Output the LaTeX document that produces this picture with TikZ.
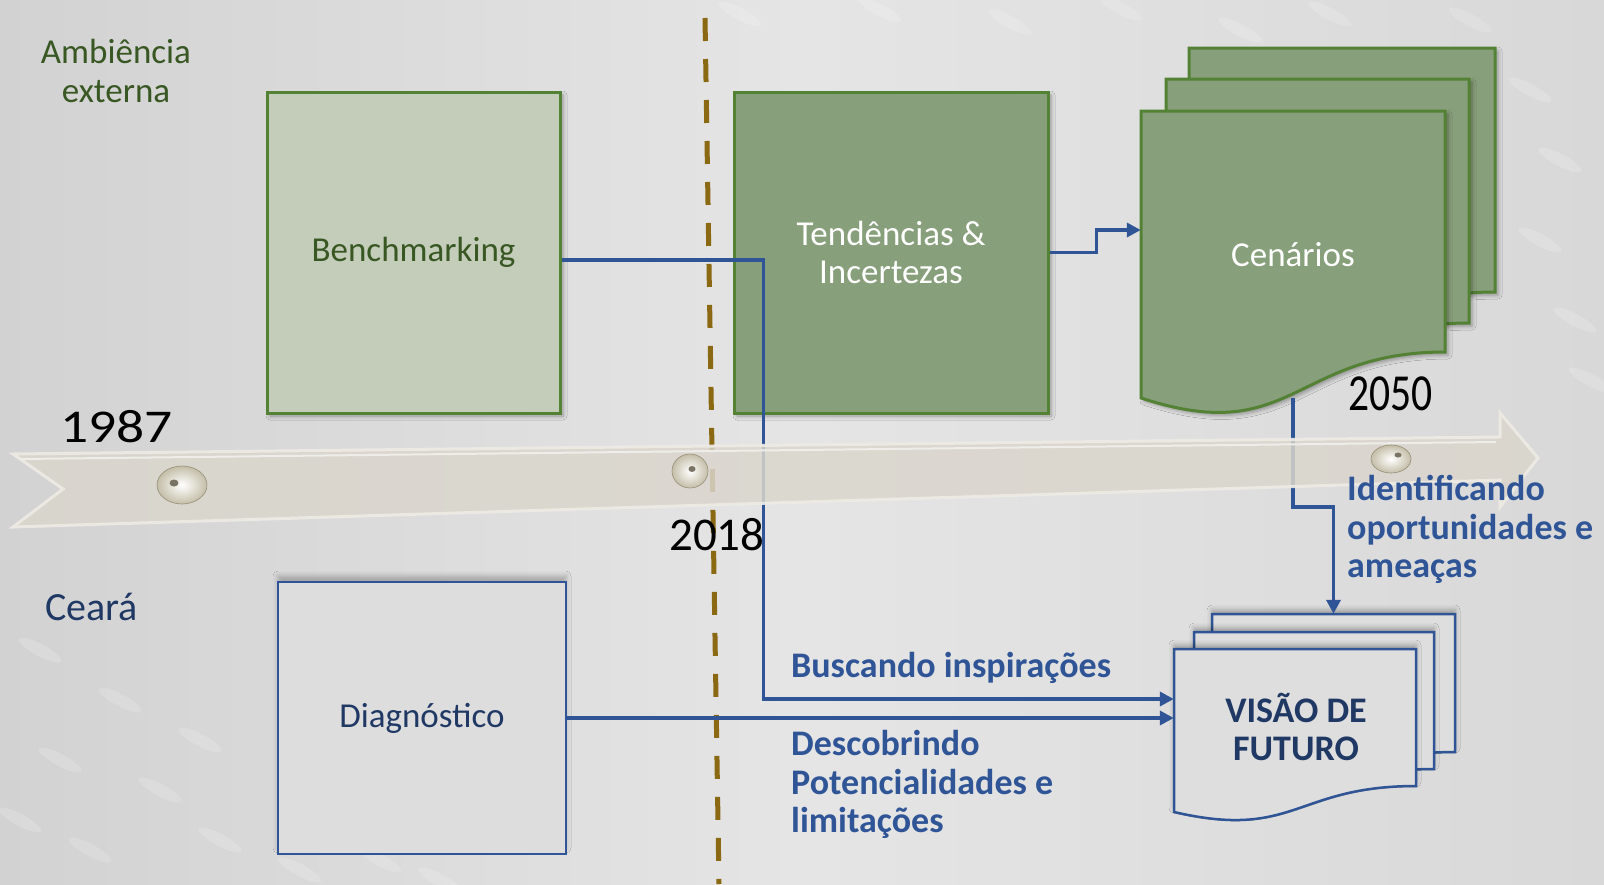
\documentclass[tikz,border=0pt]{standalone}
\usepackage{graphicx}
\usepackage{fontspec}
\setmainfont{Carlito}
\usetikzlibrary{arrows.meta,shadows.blur}
\definecolor{bgL}{RGB}{210,210,210}
\definecolor{bgM}{RGB}{229,229,229}
\definecolor{bgR}{RGB}{216,216,216}
\definecolor{gtext}{RGB}{56,87,35}
\definecolor{gborder}{RGB}{84,130,53}
\definecolor{lightsage}{RGB}{195,205,186}
\definecolor{sage}{RGB}{135,159,122}
\definecolor{linkblue}{RGB}{47,85,151}
\definecolor{navy}{RGB}{31,56,100}
\definecolor{bandfill}{RGB}{218,214,205}
\definecolor{bandrim}{RGB}{238,235,229}
\definecolor{dashbrown}{RGB}{139,104,18}
\definecolor{pegout}{RGB}{196,190,168}
\definecolor{pegrim}{RGB}{150,144,120}
\definecolor{peghole}{RGB}{120,115,100}
\definecolor{vispage}{RGB}{222,222,222}
\definecolor{diagfill}{RGB}{221,221,221}
\begin{document}
\begin{tikzpicture}[x=1pt,y=-1pt,
  txt/.style={inner sep=0pt, font={\fontsize{35}{38.5}\selectfont}},
  btxt/.style={inner sep=0pt, font={\fontsize{36}{38.5}\selectfont\bfseries}, text=linkblue},
  yeartxt/.style={inner sep=0pt, anchor=base west, text=black},
  greenbox/.style={draw=gborder, line width=3pt, inner sep=0pt,
    blur shadow={shadow xshift=3pt, shadow yshift=-3pt, shadow blur radius=4pt, shadow opacity=35}},
  cenpage/.style={draw=gborder, line width=3pt, fill=sage,
    blur shadow={shadow xshift=3pt, shadow yshift=-3pt, shadow blur radius=4pt, shadow opacity=35}},
  vpage/.style={draw=linkblue, line width=2.5pt, fill=vispage,
    blur shadow={shadow xshift=0pt, shadow yshift=4pt, shadow blur radius=5pt, shadow opacity=30}},
  conn/.style={draw=linkblue, line width=3.5pt, -{Triangle[length=14pt,width=14pt]}},
  streak/.style={fill=white, opacity=0.16},
  peg/.style={inner color=white, outer color=pegout, draw=pegrim, line width=0.6pt}
]
\useasboundingbox (0,0) rectangle (1604,884);
% background
\shade[left color=bgL, right color=bgR, middle color=bgM] (0,0) rectangle (1604,884);
\foreach \sx/\sy in {740/14, 880/10, 1010/22, 1120/8, 1240/30, 1330/14, 1420/60, 1470/20, 1530/90, 1560/160, 1540/240, 1575/320, 1590/380,
  40/650, 120/700, 60/760, 160/790, 220/840, 90/850, 300/870, 20/820, 200/740, 380/860, 440/880}
  \fill[streak, rotate around={-28:(\sx,\sy)}] (\sx,\sy) ellipse [x radius=24, y radius=6];

% dashed year line
\coordinate (dashtop) at (705,18);
\coordinate (dashbot) at (719,884);
\draw[dashbrown, line width=5pt, dash pattern=on 23pt off 18pt] (dashtop) -- (dashbot);

% Benchmarking and Tendencias boxes
\node[greenbox, fill=lightsage, text=gtext, txt, minimum width=293pt, minimum height=321pt] (bench) at (413.5,252.5) {Benchmarking};
\node[greenbox, fill=sage, text=white, txt, align=center, minimum width=314pt, minimum height=321pt] (tend) at (891,252.5) {Tendências \&\\Incertezas};

% Cenarios page stack
\draw[cenpage] (1189,48) -- (1495,48) -- (1495,292) .. controls (1342,292) and (1342,388) .. (1189,338) -- cycle;
\draw[cenpage] (1166,79) -- (1469,79) -- (1469,323) .. controls (1317,323) and (1317,419) .. (1166,369) -- cycle;
\draw[cenpage] (1141,111) -- (1445,111) -- (1445,352) .. controls (1293,352) and (1293,448) .. (1141,398) -- cycle;
\node[txt, text=white, minimum width=304pt, minimum height=287pt] (cenF) at (1293,254.5) {Cenários};

% Diagnostico box
\node[draw=linkblue, fill=diagfill, line width=2.5pt, txt, text=navy, minimum width=288pt, minimum height=272pt,
  blur shadow={shadow xshift=0pt, shadow yshift=6pt, shadow blur radius=5pt, shadow opacity=25}] (diag) at (422,718) {Diagnóstico};

% Visao de futuro page stack
\draw[vpage] (1212,614) -- (1455,614) -- (1455,752) .. controls (1333,752) and (1333,806) .. (1212,778) -- cycle;
\draw[vpage] (1194,632) -- (1434,632) -- (1434,769) .. controls (1314,769) and (1314,823) .. (1194,795) -- cycle;
\draw[vpage] (1174,649) -- (1416,649) -- (1416,786) .. controls (1295,786) and (1295,840) .. (1174,812) -- cycle;
\node[inner sep=0pt, minimum width=242pt, minimum height=163pt] (visF) at (1295,730.5) {};
\node[inner sep=0pt, minimum width=243pt, minimum height=138pt] (visB) at (1333.5,683) {};
\node[inner sep=0pt, font={\fontsize{36}{38.5}\selectfont\bfseries}, text=navy, align=center] (visT) at (1296,727) {VISÃO DE\\FUTURO};

% connectors
\coordinate (yBus) at (0,699);
\draw[conn] (tend.east) -- ++(47,0) |- (cenF.west |- 0,230);
\draw[conn] ([yshift=-7.5pt]bench.east) -- ++(202,0) |- (visF.west |- yBus);
\draw[conn] (diag.east) -- (visF.west |- diag.east);
\draw[conn] (cenF.south) -- ++(0,109) -| (visB.north);

% timeline band
\fill[bandfill, opacity=0.85] (13,454) -- (1500,437) -- (1500,413) -- (1538,458) -- (1500,507) -- (1500,480) -- (13,527) -- (63,489) -- cycle;
\draw[bandrim, line width=3pt, line join=miter, opacity=0.9] (13,454) -- (1500,437) -- (1500,413) -- (1538,458) -- (1500,507) -- (1500,480) -- (13,527) -- (63,489) -- cycle;
\draw[white!55!bandfill, line width=2pt] (20,459) -- (1496,442);
% pegs
\shade[peg] (182,485) ellipse [x radius=25, y radius=19];
\fill[peghole] (174,483) ellipse [x radius=4.5, y radius=3.5];
\shade[peg] (690,471) ellipse [x radius=18, y radius=17];
\fill[peghole] (692,469) ellipse [x radius=3.5, y radius=3];
\shade[peg] (1391,459) ellipse [x radius=20, y radius=14];
\fill[peghole] (1398,455) ellipse [x radius=3.5, y radius=2.5];

% texts
\node[txt, text=gtext, align=center] (amb) at (116,71) {Ambiência\\externa};
\node[yeartxt, font={\fontsize{47}{50}\selectfont}] (y1987) at (60,442) {\scalebox{1.18}[1]{1987}};
\node[yeartxt, font={\fontsize{47}{50}\selectfont}] (y2018) at (669,550) {2018};
\node[yeartxt, font={\fontsize{52}{55}\selectfont}] (y2050) at (1348,410) {\scalebox{0.8}[1]{2050}};
\node[inner sep=0pt, anchor=base west, font={\fontsize{40}{44}\selectfont}, text=navy] (ceara) at (45,620) {Ceará};
\node[btxt, anchor=base west] (busc) at (791,677) {Buscando inspirações};
\node[btxt, anchor=west, align=left] (desc) at (791,784.5) {Descobrindo\\Potencialidades e\\limitações};
\node[btxt, anchor=west, align=left] (ident) at (1347,529.5) {Identificando\\oportunidades e\\ameaças};
\end{tikzpicture}
\end{document}
